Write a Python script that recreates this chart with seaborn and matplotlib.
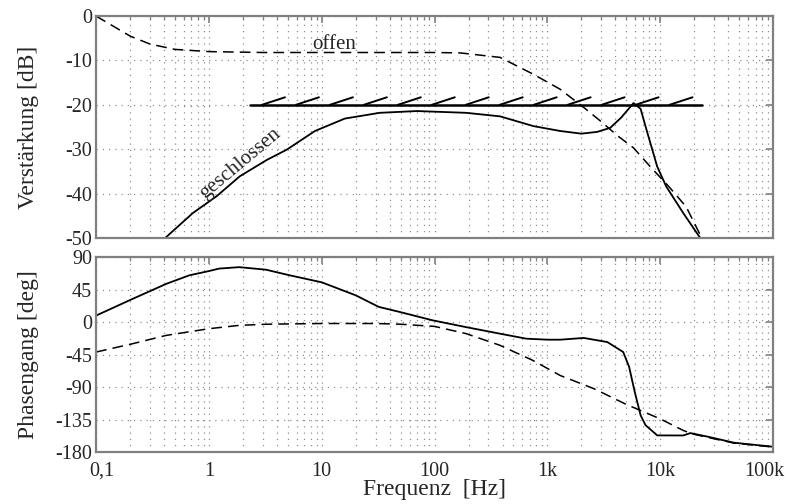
import numpy as np
import pandas as pd
import matplotlib
matplotlib.use("Agg")
import matplotlib.pyplot as plt
import matplotlib.transforms as mtrans
from matplotlib.ticker import FixedLocator, LogLocator, NullFormatter
import seaborn as sns

# Verstärkung (dB), offener Kreis
offen_f = [0.1, 0.2, 0.3, 0.5, 1, 3, 100, 170, 380, 750, 1300, 2200, 3000,
           4200, 5800, 8200, 12000, 17000, 22600]
offen_db = [0, -4.5, -6.3, -7.5, -8.0, -8.2, -8.2, -8.3, -9.3, -13.1, -16.5,
            -21, -23.8, -27, -29.7, -34, -38.5, -43, -49.3]

# Verstärkung (dB), geschlossener Kreis
geschl_f = [0.41, 0.72, 1.17, 1.88, 3.27, 4.9, 8.7, 16, 32.6, 70, 190, 381,
            752, 1300, 2000, 2760, 3600, 4500, 5800, 6700, 7400, 9400, 11300,
            16000, 22600]
geschl_db = [-50, -44.4, -40.6, -36.1, -32.4, -30.1, -25.9, -23.1, -21.8,
             -21.4, -21.8, -22.6, -24.8, -25.9, -26.5, -26.1, -25.2, -22.9,
             -19.6, -20.9, -24.8, -33.9, -38.4, -44.4, -50]

# Grenzlinie -20 dB
grenze_f = [2.3, 23600]
grenze_db = -20
hatch_f0, hatch_n = 2.95, 13

# Phasengang (deg)
ph_geschl_f = [0.1, 0.21, 0.42, 0.67, 1, 1.23, 1.85, 3.2, 5.2, 10, 20, 32,
               49, 96, 190, 377, 650, 1000, 1300, 2100, 3400, 4700, 5300,
               5900, 6700, 7400, 9400, 16000, 18500, 27000, 45000, 100000]
ph_geschl = [9, 32, 53, 64.7, 70.6, 74, 76, 72.5, 64.7, 55, 37, 21, 14, 2.4,
             -7, -16, -23, -24.4, -24.4, -22, -27.7, -41.5, -62, -94.5, -129,
             -142.6, -156.9, -157, -153.7, -159, -167, -172.6]

ph_offen_f = [0.1, 0.21, 0.42, 1, 1.85, 3.2, 10, 30, 50, 100, 190, 377, 741,
              1300, 2600, 5000, 10000, 16000, 19000, 27000, 45000, 100000]
ph_offen = [-41.5, -30, -18.4, -9.2, -4.6, -3, -2, -2, -3, -6, -16, -32, -53,
            -74, -92.4, -114, -134, -150, -154.6, -160, -167.5, -173]

xticks = [0.1, 1, 10, 100, 1000, 10000, 100000]
xticklabels = ["0,1", "1", "10", "100", "1k", "10k", "100k"]

sns.set_theme(style="white")
plt.rcParams['font.family'] = ['Liberation Serif', 'DejaVu Serif']
plt.rcParams['axes.unicode_minus'] = False

fig = plt.figure(figsize=(7.88, 5.04), dpi=100)
ax1 = fig.add_axes([0.122, 0.528, 0.859, 0.440])
ax2 = fig.add_axes([0.122, 0.103, 0.859, 0.387])

gris = '#808080'
dash = (0, (7, 4))


def rahmen(ax):
    ax.set_xscale('log')
    ax.set_xlim(0.1, 1e5)
    ax.xaxis.set_major_locator(FixedLocator(xticks))
    ax.xaxis.set_minor_locator(LogLocator(base=10, subs=np.arange(2, 10), numticks=20))
    ax.xaxis.set_minor_formatter(NullFormatter())
    ax.grid(which='major', axis='both', ls=(0, (1, 4)), color='#909090', lw=0.9)
    ax.grid(which='minor', axis='x', ls=(0, (1, 4)), color='#909090', lw=0.9)
    for s in ax.spines.values():
        s.set_color(gris)
        s.set_linewidth(1.6)
    ax.tick_params(which='both', direction='in', top=True, right=True,
                   color=gris, labelsize=14.5, pad=3)
    ax.tick_params(which='major', length=5, width=1.2)
    ax.tick_params(which='minor', length=3, width=0.9)
    ax.yaxis.set_label_coords(-0.085, 0.5)


# oben: Verstärkung
sns.lineplot(x=offen_f, y=offen_db, ax=ax1, color='black', lw=1.1, linestyle=dash)
sns.lineplot(x=geschl_f, y=geschl_db, ax=ax1, color='black', lw=1.3)
ax1.plot(grenze_f, [grenze_db, grenze_db], color='black', lw=1.8)
for k in range(hatch_n):
    f0 = hatch_f0 * 2 ** k
    ax1.plot([f0, f0 * 1.6], [grenze_db, grenze_db + 1.7], color='black', lw=1.4)

rahmen(ax1)
ax1.set_ylim(-50, 0)
ax1.set_yticks([0, -10, -20, -30, -40, -50])
ax1.set_xticklabels([])
ax1.set_ylabel('Verstärkung [dB]', fontsize=17)
ax1.text(13, -6.3, 'offen', fontsize=15, ha='center', va='center')
ax1.text(1.9, -33.3, 'geschlossen', fontsize=15, ha='center', va='center',
         rotation=40, rotation_mode='anchor')

# unten: Phasengang
sns.lineplot(x=ph_offen_f, y=ph_offen, ax=ax2, color='black', lw=1.1, linestyle=dash)
sns.lineplot(x=ph_geschl_f, y=ph_geschl, ax=ax2, color='black', lw=1.3)

rahmen(ax2)
ax2.set_ylim(-180, 90)
ax2.set_yticks([90, 45, 0, -45, -90, -135, -180])
ax2.set_xticklabels(xticklabels)
ax2.tick_params(axis='x', which='major', pad=7)
ax2.set_ylabel('Phasengang [deg]', fontsize=17)
ax2.set_xlabel('Frequenz  [Hz]', fontsize=17, labelpad=-1)

# Randbeschriftungen wie im Original etwas nach innen versetzt
labs = ax2.get_xticklabels()
labs[0].set_transform(labs[0].get_transform() + mtrans.ScaledTranslation(6 / 100, 0, fig.dpi_scale_trans))
labs[-1].set_transform(labs[-1].get_transform() + mtrans.ScaledTranslation(-9 / 100, 0, fig.dpi_scale_trans))

fig.savefig('out.png', dpi=100)
